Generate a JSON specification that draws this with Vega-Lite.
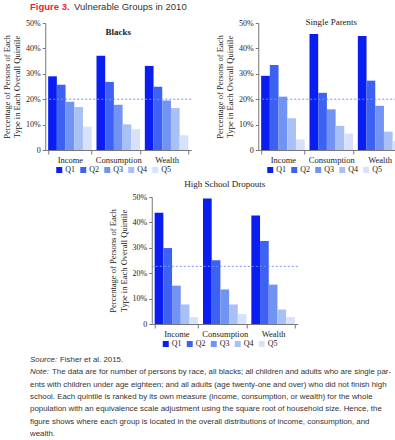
{
  "$schema": "https://vega.github.io/schema/vega-lite/v6.json",
  "padding": {"left": 2, "top": 2, "right": 0, "bottom": 0},
  "background": "white",
  "datasets": {
    "bars": [
      {"group": "Blacks", "measure": "Income", "quintile": "Q1", "pct": 29.0},
      {"group": "Blacks", "measure": "Income", "quintile": "Q2", "pct": 25.7},
      {"group": "Blacks", "measure": "Income", "quintile": "Q3", "pct": 19.0},
      {"group": "Blacks", "measure": "Income", "quintile": "Q4", "pct": 16.9},
      {"group": "Blacks", "measure": "Income", "quintile": "Q5", "pct": 9.2},
      {"group": "Blacks", "measure": "Consumption", "quintile": "Q1", "pct": 37.1},
      {"group": "Blacks", "measure": "Consumption", "quintile": "Q2", "pct": 26.8},
      {"group": "Blacks", "measure": "Consumption", "quintile": "Q3", "pct": 17.8},
      {"group": "Blacks", "measure": "Consumption", "quintile": "Q4", "pct": 10.1},
      {"group": "Blacks", "measure": "Consumption", "quintile": "Q5", "pct": 8.2},
      {"group": "Blacks", "measure": "Wealth", "quintile": "Q1", "pct": 33.1},
      {"group": "Blacks", "measure": "Wealth", "quintile": "Q2", "pct": 24.9},
      {"group": "Blacks", "measure": "Wealth", "quintile": "Q3", "pct": 19.5},
      {"group": "Blacks", "measure": "Wealth", "quintile": "Q4", "pct": 16.5},
      {"group": "Blacks", "measure": "Wealth", "quintile": "Q5", "pct": 5.8},
      {"group": "Single Parents", "measure": "Income", "quintile": "Q1", "pct": 29.2},
      {"group": "Single Parents", "measure": "Income", "quintile": "Q2", "pct": 33.5},
      {"group": "Single Parents", "measure": "Income", "quintile": "Q3", "pct": 21.0},
      {"group": "Single Parents", "measure": "Income", "quintile": "Q4", "pct": 12.5},
      {"group": "Single Parents", "measure": "Income", "quintile": "Q5", "pct": 4.2},
      {"group": "Single Parents", "measure": "Consumption", "quintile": "Q1", "pct": 45.7},
      {"group": "Single Parents", "measure": "Consumption", "quintile": "Q2", "pct": 22.5},
      {"group": "Single Parents", "measure": "Consumption", "quintile": "Q3", "pct": 16.0},
      {"group": "Single Parents", "measure": "Consumption", "quintile": "Q4", "pct": 9.5},
      {"group": "Single Parents", "measure": "Consumption", "quintile": "Q5", "pct": 6.5},
      {"group": "Single Parents", "measure": "Wealth", "quintile": "Q1", "pct": 44.9},
      {"group": "Single Parents", "measure": "Wealth", "quintile": "Q2", "pct": 27.3},
      {"group": "Single Parents", "measure": "Wealth", "quintile": "Q3", "pct": 17.4},
      {"group": "Single Parents", "measure": "Wealth", "quintile": "Q4", "pct": 7.2},
      {"group": "Single Parents", "measure": "Wealth", "quintile": "Q5", "pct": 3.5},
      {"group": "High School Dropouts", "measure": "Income", "quintile": "Q1", "pct": 43.8},
      {"group": "High School Dropouts", "measure": "Income", "quintile": "Q2", "pct": 29.9},
      {"group": "High School Dropouts", "measure": "Income", "quintile": "Q3", "pct": 15.1},
      {"group": "High School Dropouts", "measure": "Income", "quintile": "Q4", "pct": 7.7},
      {"group": "High School Dropouts", "measure": "Income", "quintile": "Q5", "pct": 2.7},
      {"group": "High School Dropouts", "measure": "Consumption", "quintile": "Q1", "pct": 49.4},
      {"group": "High School Dropouts", "measure": "Consumption", "quintile": "Q2", "pct": 25.1},
      {"group": "High School Dropouts", "measure": "Consumption", "quintile": "Q3", "pct": 13.6},
      {"group": "High School Dropouts", "measure": "Consumption", "quintile": "Q4", "pct": 7.7},
      {"group": "High School Dropouts", "measure": "Consumption", "quintile": "Q5", "pct": 3.9},
      {"group": "High School Dropouts", "measure": "Wealth", "quintile": "Q1", "pct": 42.7},
      {"group": "High School Dropouts", "measure": "Wealth", "quintile": "Q2", "pct": 32.7},
      {"group": "High School Dropouts", "measure": "Wealth", "quintile": "Q3", "pct": 15.5},
      {"group": "High School Dropouts", "measure": "Wealth", "quintile": "Q4", "pct": 5.7},
      {"group": "High School Dropouts", "measure": "Wealth", "quintile": "Q5", "pct": 2.7}
    ],
    "refs": [
      {"group": "Blacks", "ref": 20},
      {"group": "Single Parents", "ref": 20},
      {"group": "High School Dropouts", "ref": 22.7}
    ],
    "heading": [
      {"label": "Figure 3.", "title": "Vulnerable Groups in 2010"}
    ],
    "notes": [
      {"line": 1, "lead": "Source:", "body": "Fisher et al. 2015."},
      {"line": 2, "lead": "Note:", "body": "The data are for number of persons by race, all blacks; all children and adults who are single par-"},
      {"line": 3, "lead": "", "body": "ents with children under age eighteen; and all adults (age twenty-one and over) who did not finish high"},
      {"line": 4, "lead": "", "body": "school. Each quintile is ranked by its own measure (income, consumption, or wealth) for the whole"},
      {"line": 5, "lead": "", "body": "population with an equivalence scale adjustment using the square root of household size. Hence, the"},
      {"line": 6, "lead": "", "body": "figure shows where each group is located in the overall distributions of income, consumption, and"},
      {"line": 7, "lead": "", "body": "wealth."}
    ]
  },
  "config": {
    "view": {"stroke": null},
    "font": "Liberation Serif",
    "style": {
      "guide-label": {"font": "Liberation Serif", "fontSize": 8, "fill": "#222"},
      "guide-title": {"font": "Liberation Serif", "fontSize": 8.5, "fill": "#222", "fontWeight": "normal"}
    },
    "title": {"font": "Liberation Serif", "fontSize": 9, "fontWeight": "normal", "color": "#222"},
    "axis": {
      "labelFont": "Liberation Serif", "labelFontSize": 8, "labelColor": "#222",
      "titleFont": "Liberation Serif", "titleFontSize": 8.5, "titleFontWeight": "normal", "titleColor": "#222",
      "domainColor": "#777", "tickColor": "#777", "grid": false, "labelOverlap": false
    },
    "legend": {"labelFont": "Liberation Serif", "labelFontSize": 8, "labelColor": "#222"}
  },
  "resolve": {"scale": {"color": "independent"}, "legend": {"color": "independent"}},
  "center": true,
  "spacing": 6,
  "vconcat": [
    {
      "width": 390, "height": 10,
      "data": {"name": "heading"},
      "layer": [
        {"mark": {"type": "text", "align": "left", "baseline": "middle", "font": "Liberation Sans", "fontSize": 9.5, "fontWeight": "bold", "color": "#e8262f"},
         "encoding": {"x": {"datum": 0, "type": "quantitative", "scale": {"domain": [0, 1]}, "axis": null}, "text": {"field": "label"}}},
        {"mark": {"type": "text", "align": "left", "baseline": "middle", "font": "Liberation Sans", "fontSize": 9.5, "color": "#333", "dx": 44},
         "encoding": {"x": {"datum": 0, "type": "quantitative", "scale": {"domain": [0, 1]}, "axis": null}, "text": {"field": "title"}}}
      ]
    },
    {
      "resolve": {"scale": {"color": "independent"}, "legend": {"color": "independent"}},
      "spacing": 22,
      "hconcat": [
        {
          "width": 146, "height": 127,
          "title": {"text": "Blacks", "offset": -18, "fontWeight": "bold"},
          "layer": [
            {"data": {"name": "bars"}, "transform": [{"filter": "datum.group == 'Blacks'"}],
             "mark": {"type": "bar"},
             "encoding": {
               "x": {"field": "measure", "type": "nominal", "sort": ["Income", "Consumption", "Wealth"], "scale": {"paddingInner": 0.1, "paddingOuter": 0.06}, "axis": {"title": null, "labelAngle": 0, "tickBand": "extent", "tickSize": 4, "labelPadding": 1, "labelFont": "Liberation Serif", "labelFontSize": 8.5}},
               "xOffset": {"field": "quintile", "type": "nominal", "scale": {"paddingInner": 0}},
               "y": {"field": "pct", "type": "quantitative", "scale": {"domain": [0, 50]}, "axis": {"title": ["Percentage of Persons of Each", "Type in Each Overall Quintile"], "values": [0, 10, 20, 30, 40, 50], "labelExpr": "datum.value == 0 ? '0' : datum.value + '%'", "tickSize": 3, "titlePadding": 4, "labelFont": "Liberation Serif", "labelFontSize": 8}},
               "color": {"field": "quintile", "type": "nominal", "scale": {"domain": ["Q1", "Q2", "Q3", "Q4", "Q5"], "range": ["#0a1ef2", "#3d62f3", "#7193f3", "#a9c0f6", "#d7e2fa"]}, "legend": {"title": null, "orient": "none", "legendX": 10, "legendY": 143, "direction": "horizontal", "symbolType": "square", "symbolSize": 36, "symbolStrokeWidth": 0, "columnPadding": 4, "labelOffset": 2, "labelFont": "Liberation Serif", "labelFontSize": 8}}
             }},
            {"data": {"name": "refs"}, "transform": [{"filter": "datum.group == 'Blacks'"}],
             "mark": {"type": "rule", "strokeDash": [2, 2], "color": "#7592f3", "strokeWidth": 1},
             "encoding": {"y": {"field": "ref", "type": "quantitative", "axis": {"title": ["Percentage of Persons of Each", "Type in Each Overall Quintile"], "values": [0, 10, 20, 30, 40, 50], "labelExpr": "datum.value == 0 ? '0' : datum.value + '%'", "tickSize": 3, "titlePadding": 4, "labelFont": "Liberation Serif", "labelFontSize": 8}}}}
          ]
        },
        {
          "width": 146, "height": 127,
          "title": {"text": "Single Parents", "offset": -8},
          "layer": [
            {"data": {"name": "bars"}, "transform": [{"filter": "datum.group == 'Single Parents'"}],
             "mark": {"type": "bar"},
             "encoding": {
               "x": {"field": "measure", "type": "nominal", "sort": ["Income", "Consumption", "Wealth"], "scale": {"paddingInner": 0.1, "paddingOuter": 0.06}, "axis": {"title": null, "labelAngle": 0, "tickBand": "extent", "tickSize": 4, "labelPadding": 1, "labelFont": "Liberation Serif", "labelFontSize": 8.5}},
               "xOffset": {"field": "quintile", "type": "nominal", "scale": {"paddingInner": 0}},
               "y": {"field": "pct", "type": "quantitative", "scale": {"domain": [0, 50]}, "axis": {"title": ["Percentage of Persons of Each", "Type in Each Overall Quintile"], "values": [0, 10, 20, 30, 40, 50], "labelExpr": "datum.value == 0 ? '0' : datum.value + '%'", "tickSize": 3, "titlePadding": 4, "labelFont": "Liberation Serif", "labelFontSize": 8}},
               "color": {"field": "quintile", "type": "nominal", "scale": {"domain": ["Q1", "Q2", "Q3", "Q4", "Q5"], "range": ["#0a1ef2", "#3d62f3", "#7193f3", "#a9c0f6", "#d7e2fa"]}, "legend": {"title": null, "orient": "none", "legendX": 8, "legendY": 143, "direction": "horizontal", "symbolType": "square", "symbolSize": 36, "symbolStrokeWidth": 0, "columnPadding": 4, "labelOffset": 2, "labelFont": "Liberation Serif", "labelFontSize": 8}}
             }},
            {"data": {"name": "refs"}, "transform": [{"filter": "datum.group == 'Single Parents'"}],
             "mark": {"type": "rule", "strokeDash": [2, 2], "color": "#7592f3", "strokeWidth": 1},
             "encoding": {"y": {"field": "ref", "type": "quantitative", "axis": {"title": ["Percentage of Persons of Each", "Type in Each Overall Quintile"], "values": [0, 10, 20, 30, 40, 50], "labelExpr": "datum.value == 0 ? '0' : datum.value + '%'", "tickSize": 3, "titlePadding": 4, "labelFont": "Liberation Serif", "labelFontSize": 8}}}}
          ]
        }
      ]
    },
    {
      "width": 146, "height": 127,
      "title": {"text": "High School Dropouts", "offset": 4},
      "layer": [
        {"data": {"name": "bars"}, "transform": [{"filter": "datum.group == 'High School Dropouts'"}],
         "mark": {"type": "bar"},
         "encoding": {
           "x": {"field": "measure", "type": "nominal", "sort": ["Income", "Consumption", "Wealth"], "scale": {"paddingInner": 0.1, "paddingOuter": 0.06}, "axis": {"title": null, "labelAngle": 0, "tickBand": "extent", "tickSize": 4, "labelPadding": 1, "labelFont": "Liberation Serif", "labelFontSize": 8.5}},
           "xOffset": {"field": "quintile", "type": "nominal", "scale": {"paddingInner": 0}},
           "y": {"field": "pct", "type": "quantitative", "scale": {"domain": [0, 50]}, "axis": {"title": ["Percentage of Persons of Each", "Type in Each Overall Quintile"], "values": [0, 10, 20, 30, 40, 50], "labelExpr": "datum.value == 0 ? '0' : datum.value + '%'", "tickSize": 3, "titlePadding": 4, "labelFont": "Liberation Serif", "labelFontSize": 8}},
           "color": {"field": "quintile", "type": "nominal", "scale": {"domain": ["Q1", "Q2", "Q3", "Q4", "Q5"], "range": ["#0a1ef2", "#3d62f3", "#7193f3", "#a9c0f6", "#d7e2fa"]}, "legend": {"title": null, "orient": "none", "legendX": 10, "legendY": 143, "direction": "horizontal", "symbolType": "square", "symbolSize": 36, "symbolStrokeWidth": 0, "columnPadding": 4, "labelOffset": 2, "labelFont": "Liberation Serif", "labelFontSize": 8}}
         }},
        {"data": {"name": "refs"}, "transform": [{"filter": "datum.group == 'High School Dropouts'"}],
         "mark": {"type": "rule", "strokeDash": [2, 2], "color": "#7592f3", "strokeWidth": 1},
         "encoding": {"y": {"field": "ref", "type": "quantitative", "axis": {"title": ["Percentage of Persons of Each", "Type in Each Overall Quintile"], "values": [0, 10, 20, 30, 40, 50], "labelExpr": "datum.value == 0 ? '0' : datum.value + '%'", "tickSize": 3, "titlePadding": 4, "labelFont": "Liberation Serif", "labelFontSize": 8}}}}
      ]
    },
    {
      "width": 390, "height": 86,
      "data": {"name": "notes"},
      "encoding": {
        "x": {"datum": 0, "type": "quantitative", "scale": {"domain": [0, 1]}, "axis": null},
        "y": {"field": "line", "type": "ordinal", "axis": null, "scale": {"paddingInner": 0, "paddingOuter": 0}}
      },
      "layer": [
        {"mark": {"type": "text", "align": "left", "baseline": "middle", "font": "Liberation Sans", "fontSize": 7.9, "fontStyle": "italic", "color": "#333"},
         "encoding": {"text": {"field": "lead"}}},
        {"transform": [{"filter": "datum.line == 1"}],
         "mark": {"type": "text", "align": "left", "baseline": "middle", "font": "Liberation Sans", "fontSize": 7.9, "color": "#333", "dx": 30},
         "encoding": {"text": {"field": "body"}}},
        {"transform": [{"filter": "datum.line == 2"}],
         "mark": {"type": "text", "align": "left", "baseline": "middle", "font": "Liberation Sans", "fontSize": 7.9, "color": "#333", "dx": 22},
         "encoding": {"text": {"field": "body"}}},
        {"transform": [{"filter": "datum.line > 2"}],
         "mark": {"type": "text", "align": "left", "baseline": "middle", "font": "Liberation Sans", "fontSize": 7.9, "color": "#333"},
         "encoding": {"text": {"field": "body"}}}
      ]
    }
  ]
}
